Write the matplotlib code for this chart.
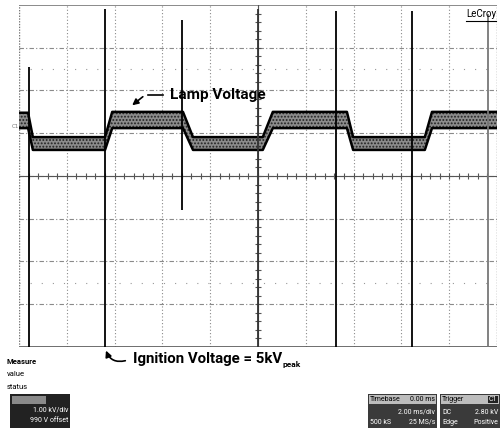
import numpy as np
import matplotlib
matplotlib.use('Agg')
import matplotlib.pyplot as plt
from matplotlib.patches import Rectangle

# screen is 10 x 8 divisions, values in divisions
trace_t = [0.0, 0.19, 0.29, 1.80, 1.95, 3.43, 3.64, 5.10, 5.31, 6.86, 6.99, 8.49, 8.64, 10.0]
trace_hi = [1.48, 1.48, 0.91, 0.91, 1.50, 1.50, 0.91, 0.91, 1.50, 1.50, 0.91, 0.91, 1.50, 1.50]
trace_lo = [1.12, 1.12, 0.61, 0.61, 1.12, 1.12, 0.61, 0.61, 1.12, 1.12, 0.61, 0.61, 1.12, 1.12]

spike_t = [0.21, 1.80, 3.41, 5.00, 6.63, 8.22, 9.81]
spike_top = [2.55, 3.90, 3.65, 3.90, 3.85, 3.85, 3.80]
spike_bot = [-4.0, -4.0, -0.80, -4.0, -4.0, -4.0, -4.0]
spike_col = ['black', 'black', 'black', '#333333', 'black', 'black', '#777777']

W, H = 502, 428
fig = plt.figure(figsize=(W / 100, H / 100), dpi=100)
ax = fig.add_axes([19 / W, 1 - 347 / H, 478 / W, 342 / H])
ax.set_xlim(0, 10)
ax.set_ylim(-4, 4)
ax.axis('off')

# graticule
for gx in range(1, 10):
    ax.axvline(gx, color='#8a8a8a', lw=0.8, ls=(0, (1, 2)))
for gy in range(-3, 4):
    ax.axhline(gy, color='#8a8a8a', lw=0.8, ls=(0, (4, 2, 1, 2)))
for gy in [2.5, -2.5]:
    ax.axhline(gy, color='#999999', lw=0.8, ls=(0, (1, 9)))
ax.axhline(4, color='#777777', lw=1.2)
ax.axhline(-4, color='#555555', lw=1.2)
ax.axvline(0, color='#777777', lw=1.0, ls=(0, (1, 1)))
ax.axvline(10, color='#777777', lw=1.0, ls=(0, (1, 1)))

# centre cross with minor ticks
ax.axhline(0, color='#555555', lw=0.8)
ax.axvline(5, color='#555555', lw=0.8)
tk = np.arange(0.2, 10, 0.2)
ax.vlines(tk, -0.07, 0.07, color='#555555', lw=0.8)
tk = np.arange(-3.8, 4, 0.2)
ax.hlines(tk, 4.94, 5.06, color='#555555', lw=0.8)

# lamp voltage trace
plt.rcParams['hatch.color'] = '#222222'
plt.rcParams['hatch.linewidth'] = 0.9
ax.fill_between(trace_t, trace_lo, trace_hi, facecolor='#8c8c8c', hatch='.....',
                edgecolor='#222222', linewidth=0, zorder=3)
ax.plot(trace_t, trace_hi, color='black', lw=1.8, zorder=4)
ax.plot(trace_t, trace_lo, color='black', lw=1.8, zorder=4)

# ignition spikes
for t, a, b, c in zip(spike_t, spike_top, spike_bot, spike_col):
    ax.vlines(t, b, a, color=c, lw=1.3, zorder=5)

bold_font = ['Roboto', 'DejaVu Sans']


def px(x, y):
    return x, H - y


fig.text(170 / W, 1 - 95 / H, 'Lamp Voltage', family=bold_font, weight='bold',
         fontsize=11, va='center', ha='left')
ax.annotate('', xy=px(145, 95), xytext=px(166, 95), xycoords='figure pixels',
            arrowprops=dict(arrowstyle='-', color='black', lw=1.2))
ax.annotate('', xy=px(130, 107), xytext=px(145, 95), xycoords='figure pixels',
            arrowprops=dict(arrowstyle='-|>', color='black', lw=1.2, mutation_scale=9))

ign = fig.text(133 / W, 1 - 359 / H, 'Ignition Voltage = 5kV', family=bold_font,
               weight='bold', fontsize=10.8, va='center', ha='left')
ax.annotate('peak', xy=(1.0, 0.0), xycoords=ign, xytext=(0.5, 1), textcoords='offset points',
            family=bold_font, weight='bold', fontsize=6, va='center', ha='left')
ax.annotate('', xy=px(105, 348), xytext=px(128, 360), xycoords='figure pixels',
            arrowprops=dict(arrowstyle='-|>', color='black', lw=1.2, mutation_scale=9,
                            connectionstyle='arc3,rad=-0.5'))

# scope labels
fig.text(466 / W, 1 - 14 / H, 'LeCroy', family=bold_font, fontsize=7, va='center', ha='left')
fig.add_artist(plt.Line2D([466 / W, 496 / W], [1 - 21 / H, 1 - 21 / H], color='black', lw=0.8))
fig.text(12 / W, 1 - 126 / H, 'C1', fontsize=4, color='#777777', va='center')

fig.text(7 / W, 1 - 361 / H, 'Measure', family=bold_font, weight='bold', fontsize=5.5, va='center')
fig.text(7 / W, 1 - 374 / H, 'value', family=bold_font, fontsize=5.5, va='center')
fig.text(7 / W, 1 - 387 / H, 'status', family=bold_font, fontsize=5.5, va='center')


def box(x0, y0, x1, y1, color):
    fig.add_artist(Rectangle((x0 / W, 1 - y1 / H), (x1 - x0) / W, (y1 - y0) / H,
                             transform=fig.transFigure, facecolor=color, edgecolor='none'))


def small(x, y, s, ha='left', color='white'):
    fig.text(x / W, 1 - y / H, s, family=bold_font, fontsize=5, color=color, ha=ha, va='center')


box(10, 394, 70, 428, '#222222')
box(12, 396, 46, 404, '#8a8a8a')
small(68, 410, '1.00 kV/div', 'right')
small(68, 421, '990 V offset', 'right')

box(368, 394, 437, 428, '#3a3a3a')
box(369, 395, 436, 404, '#bdbdbd')
small(370, 399.5, 'Timebase', color='black')
small(435, 399.5, '0.00 ms', 'right', color='black')
small(435, 412, '2.00 ms/div', 'right')
small(370, 422, '500 kS', 'left')
small(435, 422, '25 MS/s', 'right')

box(440, 394, 500, 428, '#3a3a3a')
box(441, 395, 499, 404, '#bdbdbd')
box(488, 396, 498, 403, '#222222')
small(442, 399.5, 'Trigger', color='black')
small(497, 399.5, 'C1', 'right')
small(442, 412, 'DC', 'left')
small(498, 412, '2.80 kV', 'right')
small(442, 422, 'Edge', 'left')
small(498, 422, 'Positive', 'right')

fig.savefig('out.png', dpi=100)
